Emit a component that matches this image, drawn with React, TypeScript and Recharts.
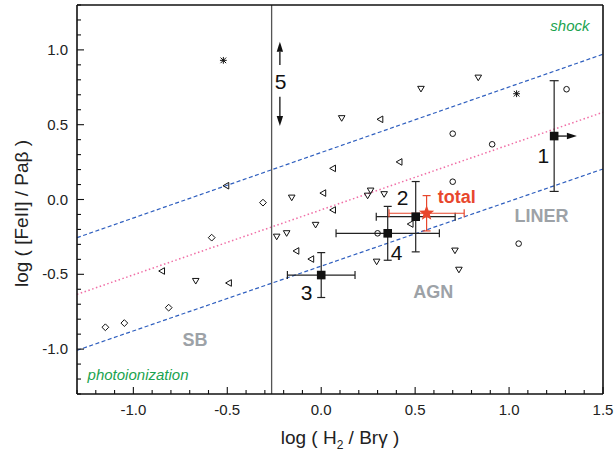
import React from "react";
import { ScatterChart, Scatter, XAxis, YAxis, ReferenceLine, ErrorBar } from "recharts";

const FONT = "'Liberation Sans', Arial, Helvetica, sans-serif";

// ---------- axes ----------
const xDomain = [-1.3, 1.5];
const yDomain = [-1.3, 1.3];
const xTicks = [-1.3, -1.2, -1.1, -1.0, -0.9, -0.8, -0.7, -0.6, -0.5, -0.4, -0.3, -0.2, -0.1, 0.0, 0.1, 0.2, 0.3, 0.4, 0.5, 0.6, 0.7, 0.8, 0.9, 1.0, 1.1, 1.2, 1.3, 1.4, 1.5];
const yTicks = [-1.3, -1.2, -1.1, -1.0, -0.9, -0.8, -0.7, -0.6, -0.5, -0.4, -0.3, -0.2, -0.1, 0.0, 0.1, 0.2, 0.3, 0.4, 0.5, 0.6, 0.7, 0.8, 0.9, 1.0, 1.1, 1.2, 1.3];
const xMajor = [-1.0, -0.5, 0.0, 0.5, 1.0, 1.5];
const yMajor = [-1.0, -0.5, 0.0, 0.5, 1.0];

// ---------- comparison samples ----------
const downTriangles = [
  { x: -0.668, y: -0.545 }, { x: -0.237, y: -0.249 }, { x: -0.184, y: -0.226 },
  { x: -0.157, y: 0.012 }, { x: -0.03, y: -0.17 }, { x: 0.109, y: 0.543 },
  { x: 0.263, y: 0.059 }, { x: 0.247, y: 0.025 }, { x: 0.335, y: 0.035 },
  { x: 0.295, y: -0.416 }, { x: 0.531, y: 0.739 }, { x: 0.836, y: 0.814 },
  { x: 0.712, y: -0.342 }, { x: 0.733, y: -0.47 },
];
const leftTriangles = [
  { x: -0.849, y: -0.478 }, { x: -0.493, y: -0.558 }, { x: -0.507, y: 0.092 },
  { x: -0.134, y: -0.344 }, { x: -0.055, y: -0.398 }, { x: 0.009, y: 0.043 },
  { x: 0.061, y: 0.208 }, { x: 0.061, y: -0.07 }, { x: 0.313, y: 0.536 },
  { x: 0.415, y: 0.251 }, { x: 0.474, y: -0.164 },
];
const diamonds = [
  { x: -1.149, y: -0.854 }, { x: -1.048, y: -0.826 }, { x: -0.812, y: -0.723 },
  { x: -0.583, y: -0.255 }, { x: -0.31, y: -0.021 },
];
const circles = [
  { x: 0.3, y: -0.226 }, { x: 0.7, y: 0.119 }, { x: 0.7, y: 0.44 },
  { x: 0.91, y: 0.369 }, { x: 1.051, y: -0.295 }, { x: 1.306, y: 0.737 },
];
const asterisks = [{ x: -0.521, y: 0.93 }, { x: 1.04, y: 0.707 }];

// ---------- regions measured in this work ----------
const squaresXY = [
  { x: 0.503, y: -0.115, ex: 0.21, ey: 0.235 },
  { x: 0.0, y: -0.505, ex: 0.18, ey: 0.15 },
  { x: 0.354, y: -0.226, ex: 0.275, ey: 0.18 },
];
const squaresYOnly = [{ x: 1.24, y: 0.424, ey: 0.37 }];
const totalPoint = [{ x: 0.561, y: -0.092, ex: 0.2, ey: 0.118 }];

// limits (arrows): start -> end
const arrows = [
  { x1: 1.24, y1: 0.424, x2: 1.361, y2: 0.424 },
  { x1: -0.22, y1: 0.899, x2: -0.22, y2: 1.055 },
  { x1: -0.22, y1: 0.687, x2: -0.22, y2: 0.491 },
];

// dividing lines
const upperLine = [{ x: -1.3, y: -0.255 }, { x: 1.5, y: 0.971 }];
const middleLine = [{ x: -1.3, y: -0.634 }, { x: 1.5, y: 0.583 }];
const lowerLine = [{ x: -1.3, y: -1.008 }, { x: 1.5, y: 0.204 }];
const verticalLineX = -0.264;

// ---------- annotations ----------
const numberLabels = [
  { x: 1.182, y: 0.297, text: "1" },
  { x: 0.433, y: 0.012, text: "2" },
  { x: -0.078, y: -0.623, text: "3" },
  { x: 0.401, y: -0.356, text: "4" },
  { x: -0.216, y: 0.792, text: "5" },
];
const totalLabel = [{ x: 0.721, y: 0.019, text: "total" }];
const regionLabels = [
  { x: -0.672, y: -0.939, text: "SB" },
  { x: 0.596, y: -0.616, text: "AGN" },
  { x: 1.173, y: -0.11, text: "LINER" },
];
const mechanismLabels = [
  { x: 1.324, y: 1.162, text: "shock" },
  { x: -0.975, y: -1.173, text: "photoionization" },
];

const BLUE = "#2f5fbf";
const PINK = "#f06ea6";
const RED = "#e8472d";
const GREEN = "#1aa34f";
const GRAY = "#9da2a7";

const near = (v: number, list: number[]) => list.some((m) => Math.abs(m - v) < 1e-6);
const fmt = (v: number) => (Math.abs(v) < 1e-9 ? 0 : v).toFixed(1);

const makeTick = (side: "bottom" | "top" | "left" | "right") => (props: any) => {
  const { x, y, payload } = props;
  const v = Number(payload.value);
  const major = side === "bottom" || side === "top" ? near(v, xMajor) : near(v, yMajor);
  const len = major ? 7 : 4;
  const st = { stroke: "#111", strokeWidth: 1.1 };
  if (side === "bottom") {
    return (
      <g>
        <line x1={x} x2={x} y1={y} y2={y - len} {...st} />
        {major && (
          <text x={x} y={y + 21} textAnchor="middle" fontFamily={FONT} fontSize={15} fill="#222">
            {fmt(v)}
          </text>
        )}
      </g>
    );
  }
  if (side === "top") return <line x1={x} x2={x} y1={y} y2={y + len} {...st} />;
  if (side === "right") return <line x1={x} x2={x - len} y1={y} y2={y} {...st} />;
  return (
    <g>
      <line x1={x} x2={x + len} y1={y} y2={y} {...st} />
      {major && (
        <text x={x - 9} y={y + 5} textAnchor="end" fontFamily={FONT} fontSize={15} fill="#222">
          {fmt(v)}
        </text>
      )}
    </g>
  );
};

const DownTri = (p: any) => {
  const { cx, cy } = p;
  if (cx == null) return null;
  return <path d={`M${cx - 3.3},${cy - 2.6} L${cx + 3.3},${cy - 2.6} L${cx},${cy + 3} Z`} fill="none" stroke="#111" strokeWidth={1} />;
};
const LeftTri = (p: any) => {
  const { cx, cy } = p;
  if (cx == null) return null;
  return <path d={`M${cx - 3},${cy} L${cx + 2.8},${cy - 3.3} L${cx + 2.8},${cy + 3.3} Z`} fill="none" stroke="#111" strokeWidth={1} />;
};
const Diamond = (p: any) => {
  const { cx, cy } = p;
  if (cx == null) return null;
  return <path d={`M${cx},${cy - 3.4} L${cx + 3.4},${cy} L${cx},${cy + 3.4} L${cx - 3.4},${cy} Z`} fill="none" stroke="#111" strokeWidth={1} />;
};
const Circ = (p: any) => {
  const { cx, cy } = p;
  if (cx == null) return null;
  return <circle cx={cx} cy={cy} r={2.8} fill="none" stroke="#111" strokeWidth={1} />;
};
const Aster = (p: any) => {
  const { cx, cy } = p;
  if (cx == null) return null;
  const s = 2.8;
  return (
    <g stroke="#111" strokeWidth={1}>
      <line x1={cx - s} y1={cy - s} x2={cx + s} y2={cy + s} />
      <line x1={cx - s} y1={cy + s} x2={cx + s} y2={cy - s} />
      <line x1={cx} y1={cy - s - 0.6} x2={cx} y2={cy + s + 0.6} />
      <line x1={cx - s - 0.6} y1={cy} x2={cx + s + 0.6} y2={cy} />
    </g>
  );
};
const Square = (p: any) => {
  const { cx, cy } = p;
  if (cx == null) return null;
  return <rect x={cx - 4.3} y={cy - 4.3} width={8.6} height={8.6} fill="#111" />;
};
const Star = (p: any) => {
  const { cx, cy } = p;
  if (cx == null) return null;
  const R = 8, r = 3.4;
  const pts: string[] = [];
  for (let i = 0; i < 10; i++) {
    const rad = i % 2 === 0 ? R : r;
    const a = -Math.PI / 2 + (i * Math.PI) / 5;
    pts.push(`${cx + rad * Math.cos(a)},${cy + rad * Math.sin(a)}`);
  }
  return <polygon points={pts.join(" ")} fill={RED} />;
};

const makeText = (style: any) => (p: any) => {
  const { cx, cy, payload } = p;
  if (cx == null) return null;
  return (
    <text x={cx} y={cy} textAnchor="middle" dominantBaseline="central" fontFamily={FONT} {...style}>
      {payload.text}
    </text>
  );
};

const ArrowShape = (p: any) => {
  const { x1, y1, x2, y2 } = p;
  if ([x1, y1, x2, y2].some((v) => v == null || isNaN(v))) return null;
  const dx = x2 - x1, dy = y2 - y1;
  const L = Math.hypot(dx, dy) || 1;
  const ux = dx / L, uy = dy / L;
  const head = 10, hw = 3.2;
  const bx = x2 - ux * head, by = y2 - uy * head;
  return (
    <g>
      <line x1={x1} y1={y1} x2={bx} y2={by} stroke="#111" strokeWidth={1.3} />
      <polygon points={`${x2},${y2} ${bx - uy * hw},${by + ux * hw} ${bx + uy * hw},${by - ux * hw}`} fill="#111" />
    </g>
  );
};

const XTitle = (p: any) => {
  const vb = p.viewBox || { x: 77, y: 394, width: 526, height: 63 };
  return (
    <text x={vb.x + vb.width / 2} y={vb.y + 50} textAnchor="middle" fontFamily={FONT} fontSize={19} fill="#222">
      log ( H<tspan dy={5} fontSize={12}>2</tspan>
      <tspan dy={-5}> / Br&#947; )</tspan>
    </text>
  );
};
const YTitle = (p: any) => {
  const vb = p.viewBox || { x: 0, y: 5, width: 77, height: 389 };
  const cx = vb.x + 21;
  const cy = vb.y + vb.height / 2 + 14;
  return (
    <text x={cx} y={cy} transform={`rotate(-90, ${cx}, ${cy})`} textAnchor="middle" dominantBaseline="central" fontFamily={FONT} fontSize={19} fill="#222">
      log ( [FeII] / Pa&#946; )
    </text>
  );
};

const axisLine = { stroke: "#111", strokeWidth: 1.6 };

export default function App() {
  return (
    <div style={{ position: "absolute", left: 0, top: 0, width: 615, height: 457, background: "#fff" }}>
      <ScatterChart width={615} height={457} margin={{ top: 0, right: 0, bottom: 0, left: 0 }}>
        <XAxis
          xAxisId="b"
          dataKey="x"
          type="number"
          domain={xDomain}
          ticks={xTicks}
          interval={0}
          height={63}
          tickSize={0}
          tickMargin={0}
          tickLine={false}
          axisLine={axisLine}
          tick={makeTick("bottom")}
          label={<XTitle />}
        />
        <XAxis
          xAxisId="t"
          orientation="top"
          dataKey="x"
          type="number"
          domain={xDomain}
          ticks={xTicks}
          interval={0}
          height={5}
          tickSize={0}
          tickMargin={0}
          tickLine={false}
          axisLine={axisLine}
          tick={makeTick("top")}
        />
        <YAxis
          yAxisId="l"
          dataKey="y"
          type="number"
          domain={yDomain}
          ticks={yTicks}
          interval={0}
          width={77}
          tickSize={0}
          tickMargin={0}
          tickLine={false}
          axisLine={axisLine}
          tick={makeTick("left")}
          label={<YTitle />}
        />
        <YAxis
          yAxisId="r"
          orientation="right"
          dataKey="y"
          type="number"
          domain={yDomain}
          ticks={yTicks}
          interval={0}
          width={12}
          tickSize={0}
          tickMargin={0}
          tickLine={false}
          axisLine={axisLine}
          tick={makeTick("right")}
        />

        <ReferenceLine xAxisId="b" yAxisId="l" segment={upperLine} stroke={BLUE} strokeWidth={1.2} strokeDasharray="4 2.5" />
        <ReferenceLine xAxisId="b" yAxisId="l" segment={middleLine} stroke={PINK} strokeWidth={1.5} strokeDasharray="1.5 2.5" />
        <ReferenceLine xAxisId="b" yAxisId="l" segment={lowerLine} stroke={BLUE} strokeWidth={1.2} strokeDasharray="4 2.5" />
        <ReferenceLine xAxisId="b" yAxisId="l" x={verticalLineX} stroke="#555" strokeWidth={1.3} />

        {arrows.map((a, i) => (
          <ReferenceLine
            key={`arr${i}`}
            xAxisId="b"
            yAxisId="l"
            segment={[{ x: a.x1, y: a.y1 }, { x: a.x2, y: a.y2 }]}
            shape={ArrowShape}
          />
        ))}

        <Scatter xAxisId="b" yAxisId="l" data={downTriangles} shape={DownTri} isAnimationActive={false} />
        <Scatter xAxisId="b" yAxisId="l" data={leftTriangles} shape={LeftTri} isAnimationActive={false} />
        <Scatter xAxisId="b" yAxisId="l" data={diamonds} shape={Diamond} isAnimationActive={false} />
        <Scatter xAxisId="b" yAxisId="l" data={circles} shape={Circ} isAnimationActive={false} />
        <Scatter xAxisId="b" yAxisId="l" data={asterisks} shape={Aster} isAnimationActive={false} />

        <Scatter xAxisId="b" yAxisId="l" data={squaresXY} shape={Square} isAnimationActive={false}>
          <ErrorBar dataKey="ex" direction="x" width={4} stroke="#222" strokeWidth={1.2} />
          <ErrorBar dataKey="ey" direction="y" width={4} stroke="#222" strokeWidth={1.2} />
        </Scatter>
        <Scatter xAxisId="b" yAxisId="l" data={squaresYOnly} shape={Square} isAnimationActive={false}>
          <ErrorBar dataKey="ey" direction="y" width={4.5} stroke="#222" strokeWidth={1.2} />
        </Scatter>
        <Scatter xAxisId="b" yAxisId="l" data={totalPoint} shape={Star} isAnimationActive={false}>
          <ErrorBar dataKey="ex" direction="x" width={4} stroke={RED} strokeWidth={1.2} />
          <ErrorBar dataKey="ey" direction="y" width={4} stroke={RED} strokeWidth={1.2} />
        </Scatter>

        <Scatter xAxisId="b" yAxisId="l" data={numberLabels} shape={makeText({ fontSize: 21, fill: "#111" })} isAnimationActive={false} />
        <Scatter xAxisId="b" yAxisId="l" data={totalLabel} shape={makeText({ fontSize: 18, fontWeight: "bold", fill: RED })} isAnimationActive={false} />
        <Scatter xAxisId="b" yAxisId="l" data={regionLabels} shape={makeText({ fontSize: 18, fontWeight: "bold", fill: GRAY })} isAnimationActive={false} />
        <Scatter xAxisId="b" yAxisId="l" data={mechanismLabels} shape={makeText({ fontSize: 15, fontStyle: "italic", fill: GREEN })} isAnimationActive={false} />
      </ScatterChart>
    </div>
  );
}
